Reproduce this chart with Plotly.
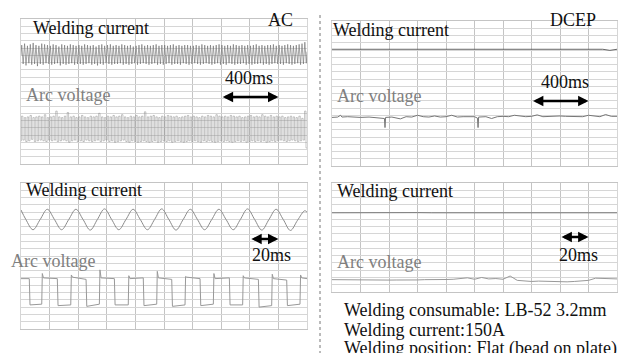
import plotly.graph_objects as go

# ---------------- data (values in grid divisions, time in ms) ----------------
# Top-left: AC, 2 s window, welding current peaks / troughs per 20 ms cycle
TL_I_PEAK = [16.4,16.6,16.3,16.5,16.7,16.4,16.3,16.6,16.5,16.4,
             16.3,16.5,16.4,16.2,16.5,16.4,16.3,16.5,16.4,16.3,
             16.4,16.3,16.5,16.4,16.3,16.4,16.2,16.4,16.5,16.3,
             16.4,16.5,16.3,16.4,16.3,16.5,16.4,16.3,16.4,16.2,
             16.3,16.4,16.5,16.3,16.4,16.3,16.4,16.5,16.3,16.4,
             16.4,16.3,16.4,16.5,16.3,16.4,16.3,16.4,16.4,16.3,
             16.3,16.4,16.3,16.5,16.4,16.3,16.4,16.3,16.4,16.5,
             16.4,16.3,16.4,16.3,16.5,16.4,16.3,16.4,16.3,16.4,
             16.3,16.4,16.5,16.3,16.4,16.3,16.4,16.4,16.5,16.3,
             16.4,16.3,16.4,16.5,16.4,16.3,16.4,16.5,16.6,16.8]
TL_I_TROUGH = [13.8,13.6,13.9,13.7,13.8,13.5,13.8,13.7,13.9,13.8,
               13.7,13.8,13.9,13.6,13.8,13.7,13.8,13.9,13.7,13.8,
               13.8,13.7,13.8,13.9,13.7,13.8,13.6,13.8,13.7,13.9,
               13.8,13.7,13.8,13.8,13.9,13.7,13.8,13.7,13.8,13.9,
               13.7,13.8,13.9,13.8,13.7,13.8,13.9,13.7,13.8,13.7,
               13.8,13.9,13.7,13.8,13.8,13.7,13.9,13.8,13.7,13.8,
               13.9,13.8,13.7,13.8,13.9,13.8,13.7,13.8,13.9,13.7,
               13.8,13.7,13.9,13.8,13.7,13.8,13.8,13.9,13.7,13.8,
               13.7,13.8,13.8,13.9,13.7,13.8,13.7,13.8,13.9,13.8,
               13.8,13.7,13.9,13.8,13.7,13.8,13.9,13.7,13.8,13.9]
# Top-left: AC arc voltage, high / low level per cycle
TL_V_HIGH = [6.6,6.4,6.5,6.7,6.4,6.5,6.6,6.5,6.8,6.4,
             6.5,6.6,7.3,6.5,6.4,6.6,7.1,6.5,6.6,6.4,
             6.5,6.7,6.5,6.4,6.6,6.5,6.6,7.0,6.5,6.4,
             6.6,6.5,6.7,6.5,6.6,6.8,6.5,6.4,6.6,6.5,
             6.7,6.5,6.6,7.2,6.5,6.6,6.7,6.5,6.4,6.6,
             6.5,6.7,6.6,6.5,6.6,6.4,6.5,6.6,6.7,6.5,
             6.6,6.5,6.4,6.6,6.5,6.7,6.6,6.5,6.8,6.6,
             6.5,6.6,6.5,6.7,6.6,6.5,6.6,6.4,6.5,6.6,
             6.7,6.5,6.6,6.5,6.8,6.6,6.5,6.7,6.5,6.6,
             6.5,6.6,6.4,6.5,6.6,6.5,6.4,6.6,6.3,7.3]
TL_V_LOW = [3.3,3.1,3.2,3.4,3.1,3.2,3.3,3.2,3.1,3.3,
            3.2,3.3,3.1,3.2,3.3,3.2,3.0,3.2,3.3,3.1,
            3.2,3.1,3.3,3.2,3.1,3.2,3.3,3.1,3.2,3.3,
            3.1,3.2,3.0,3.1,3.2,3.3,3.1,3.0,3.2,3.1,
            3.0,3.1,3.2,3.1,3.0,3.1,3.2,3.0,3.1,3.2,
            3.1,3.2,3.0,3.1,3.2,3.1,3.0,3.1,3.2,3.1,
            3.2,3.1,3.0,3.2,3.1,3.2,3.1,3.0,3.1,3.2,
            3.1,3.2,3.1,3.0,3.1,3.2,3.1,3.2,3.0,3.1,
            3.2,3.1,3.2,3.1,3.2,3.0,3.1,3.2,3.1,3.2,
            3.3,3.2,3.1,3.2,3.3,3.2,3.1,3.2,3.3,2.2]

# Bottom-left: AC, 200 ms window
BL_I_T = [0, 3.4, 8.4, 13.4, 18.4, 23.4, 28.4, 33.4, 38.4, 43.4, 48.4, 53.4, 58.4,
          63.4, 68.4, 73.4, 78.4, 83.4, 88.4, 93.4, 98.4, 103.4, 108.4, 113.4,
          118.4, 123.4, 128.4, 133.4, 138.4, 143.4, 148.4, 153.4, 158.4, 163.4,
          168.4, 173.4, 178.4, 183.4, 188.4, 193.4, 198.4, 200]
BL_I_V = [16.3, 15.0, 13.6, 15.0, 16.4, 15.0, 13.6, 15.0, 16.4, 15.0, 13.55, 15.0, 16.45,
          15.0, 13.6, 15.0, 16.4, 15.0, 13.6, 15.0, 16.45, 15.0, 13.55, 15.0,
          16.4, 15.0, 13.6, 15.0, 16.4, 15.0, 13.6, 15.0, 16.45, 15.0,
          13.55, 15.0, 16.4, 15.0, 13.5, 14.9, 16.2, 16.0]
BL_V_DOWN = [5.8, 25.4, 45.5, 65.3, 85.5, 105.4, 125.2, 145.7, 166.0, 185.8]
BL_V_UP = [14.5, 34.8, 54.8, 75.0, 94.9, 114.7, 134.5, 155.0, 175.3, 195.1]
BL_V_START = 6.9
BL_V_SPIKE = [7.6, 7.4, 8.1, 7.3, 7.9, 7.2, 7.6, 7.3, 7.5, 7.4]
BL_V_HIGH_A = [7.0, 7.1, 7.0, 6.9, 7.0, 7.1, 6.9, 7.0, 6.9, 7.0]
BL_V_HIGH_B = [6.9, 6.8, 6.9, 7.0, 6.8, 6.9, 7.0, 6.8, 6.7, 6.9]
BL_V_LOW_A = [3.3, 3.2, 3.1, 3.3, 3.2, 3.1, 3.2, 3.3, 3.0, 3.2]
BL_V_LOW_B = [3.4, 3.3, 3.4, 3.3, 3.4, 3.3, 3.4, 3.3, 3.2, 3.4]

# Top-right: DCEP, 2 s window
TR_I = [16.1, 16.1, 16.12, 16.1, 16.08, 16.1, 16.1, 16.12, 16.1, 16.1,
        16.1, 16.08, 16.1, 16.1, 16.12, 16.1, 16.1, 16.1, 16.08, 16.1,
        16.1, 16.12, 16.1, 16.1, 16.1, 16.08, 16.1, 16.1, 16.12, 16.1,
        16.1, 16.1, 16.08, 16.1, 16.1, 16.1, 16.12, 16.1, 16.1, 15.95, 16.1]
TR_V_T = [0, 40, 60, 70, 110, 150, 200, 260, 330, 368, 372, 376, 420, 480, 520,
          560, 600, 640, 680, 720, 760, 800, 840, 880, 920, 960, 1000, 1021, 1025,
          1029, 1080, 1120, 1160, 1200, 1240, 1280, 1320, 1360, 1400, 1440, 1480,
          1520, 1560, 1600, 1640, 1680, 1720, 1760, 1800, 1840, 1880, 1920, 1960, 2000]
TR_V_V = [6.7, 6.75, 7.0, 6.75, 6.8, 6.75, 6.7, 6.75, 6.6, 6.55, 5.3, 6.7, 6.75, 6.5, 6.8,
          6.75, 7.0, 6.8, 6.75, 6.9, 6.75, 6.8, 7.0, 6.75, 6.8, 6.75, 6.8, 6.6, 5.3,
          6.75, 6.8, 6.55, 6.8, 6.85, 6.8, 7.0, 6.85, 6.8, 6.85, 7.05, 6.8,
          6.85, 6.8, 6.9, 6.85, 6.8, 6.85, 6.8, 7.0, 6.85, 6.8, 7.1, 6.85, 6.85]

# Bottom-right: DCEP, 200 ms window
BR_I = [10.9, 10.92, 10.9, 10.88, 10.9, 10.9, 10.92, 10.9, 10.9, 10.88, 10.9,
        10.9, 10.9, 10.92, 10.9, 10.88, 10.9, 10.9, 10.9, 10.9, 10.9]
BR_V = [1.7, 1.68, 1.66, 1.65, 1.66, 1.64, 1.65, 1.66, 1.64, 1.65, 1.63, 1.65, 1.66,
        1.7, 1.68, 1.7, 1.72, 1.75, 1.8, 1.95, 1.75, 2.0, 1.8, 1.85, 1.75, 2.2, 1.6,
        1.5, 1.45, 1.5, 1.45, 1.4, 1.45, 1.4, 1.45, 1.5, 1.6, 1.9, 1.85, 1.75, 1.8]

# ---------------- build traces ----------------
tl_i_t, tl_i_v = [0], [15.0]
for k in range(len(TL_I_PEAK)):
    tl_i_t += [20 * k + 5, 20 * k + 15]
    tl_i_v += [TL_I_PEAK[k], TL_I_TROUGH[k]]
tl_i_t.append(2000); tl_i_v.append(15.5)

tl_v_t, tl_v_v = [0], [3.2]
for k in range(len(TL_V_HIGH)):
    tl_v_t += [20 * k + 3, 20 * k + 13]
    tl_v_v += [TL_V_HIGH[k], TL_V_LOW[k]]
tl_v_t.append(2000); tl_v_v.append(TL_V_LOW[-1])

bl_v_t, bl_v_v = [0, BL_V_DOWN[0]], [BL_V_START, BL_V_START]
for k in range(len(BL_V_UP)):
    bl_v_t += [BL_V_DOWN[k] + 0.5, BL_V_UP[k], BL_V_UP[k] + 0.4, BL_V_UP[k] + 1.2]
    bl_v_v += [BL_V_LOW_A[k], BL_V_LOW_B[k], BL_V_SPIKE[k], BL_V_HIGH_A[k]]
    nxt = BL_V_DOWN[k + 1] if k + 1 < len(BL_V_DOWN) else 200
    bl_v_t.append(nxt); bl_v_v.append(BL_V_HIGH_B[k])

fig = go.Figure()
fig.add_trace(go.Scatter(x=tl_i_t, y=tl_i_v, mode="lines", line=dict(color="#6a6a6a", width=0.6), xaxis="x", yaxis="y"))
fig.add_trace(go.Scatter(x=tl_v_t, y=tl_v_v, mode="lines", line=dict(color="#8a8a8a", width=0.5, shape="hv"), xaxis="x", yaxis="y"))
fig.add_trace(go.Scatter(x=BL_I_T, y=BL_I_V, mode="lines", line=dict(color="#8a8a8a", width=1, shape="spline"), xaxis="x2", yaxis="y2"))
fig.add_trace(go.Scatter(x=bl_v_t, y=bl_v_v, mode="lines", line=dict(color="#999999", width=1), xaxis="x2", yaxis="y2"))
fig.add_trace(go.Scatter(x=[50 * i for i in range(len(TR_I))], y=TR_I, mode="lines", line=dict(color="#666666", width=1), xaxis="x3", yaxis="y3"))
fig.add_trace(go.Scatter(x=TR_V_T, y=TR_V_V, mode="lines", line=dict(color="#777777", width=1), xaxis="x3", yaxis="y3"))
fig.add_trace(go.Scatter(x=[10 * i for i in range(len(BR_I))], y=BR_I, mode="lines", line=dict(color="#777777", width=1), xaxis="x4", yaxis="y4"))
fig.add_trace(go.Scatter(x=[5 * i for i in range(len(BR_V))], y=BR_V, mode="lines", line=dict(color="#999999", width=1), xaxis="x4", yaxis="y4"))

# ---------------- layout ----------------
W, H = 622, 353
def px_x(p): return p / W
def px_y(p): return 1 - p / H

panels = {  # name: (left, right, top, bottom px, xmax, xdtick, ymax)
    "": (21, 307, 19, 164, 2000, 200, 20),
    "2": (21, 307, 183, 329, 200, 20, 20),
    "3": (332, 617, 21, 166, 2000, 200, 20),
    "4": (332, 617, 183, 292, 200, 20, 15),
}
vgrid, hgrid = "#c4c4c4", "#d6d6d6"
lay = {}
for n, (l, r, t, b, xmax, xd, ymax) in panels.items():
    lay["xaxis" + n] = dict(domain=[px_x(l), px_x(r)], range=[0, xmax], dtick=xd, tick0=0,
                            showgrid=True, gridcolor=vgrid, gridwidth=1, zeroline=False,
                            showticklabels=False, ticks="", showline=True, mirror=True,
                            linecolor=vgrid, linewidth=1, anchor="y" + n, fixedrange=True)
    lay["yaxis" + n] = dict(domain=[px_y(b), px_y(t)], range=[0, ymax], dtick=1, tick0=0,
                            showgrid=True, gridcolor=hgrid, gridwidth=1, zeroline=False,
                            showticklabels=False, ticks="", showline=True, mirror=True,
                            linecolor=hgrid, linewidth=1, anchor="x" + n, fixedrange=True)

FONT = "Liberation Serif, Times New Roman, serif"
texts = [
    ("Welding current", 32, 28, "#111111"), ("AC", 267, 19.6, "#111111"),
    ("400ms", 224, 77.6, "#111111"), ("Arc voltage", 25, 94.6, "#808080"),
    ("Welding current", 25, 189.6, "#111111"), ("20ms", 251, 255.3, "#111111"),
    ("Arc voltage", 10, 261.3, "#808080"),
    ("DCEP", 549, 19.6, "#111111"), ("Welding current", 332, 29.6, "#111111"),
    ("400ms", 540, 82, "#111111"), ("Arc voltage", 336, 96.3, "#808080"),
    ("Welding current", 336, 190.6, "#111111"), ("20ms", 558, 255.3, "#111111"),
    ("Arc voltage", 336, 262.3, "#808080"),
    ("Welding consumable: LB-52 3.2mm", 343, 309.6, "#111111"),
    ("Welding current:150A", 343, 330.3, "#111111"),
    ("Welding position: Flat (bead on plate)", 343, 348.6, "#111111"),
]
annotations = []
for s, x, y, c in texts:
    annotations.append(dict(text=s, x=px_x(x), y=px_y(y), xref="paper", yref="paper",
                            xanchor="left", yanchor="middle", showarrow=False, borderpad=0,
                            font=dict(family=FONT, size=18, color=c)))
arrows = [("x", "y", 1400, 1800, 9.24), ("x2", "y2", 160, 180, 12.33),
          ("x3", "y3", 1400, 1800, 8.97), ("x4", "y4", 160, 180, 7.57)]
for xr, yr, a, b, yv in arrows:
    annotations.append(dict(text="", x=b, y=yv, ax=a, ay=yv, xref=xr, yref=yr, axref=xr, ayref=yr,
                            showarrow=True, arrowhead=2, arrowside="end+start", arrowsize=0.8,
                            arrowwidth=2.6, arrowcolor="#000000", standoff=0, startstandoff=0))

fig.update_layout(width=W, height=H, margin=dict(l=0, r=0, t=0, b=0), showlegend=False,
                  paper_bgcolor="white", plot_bgcolor="white", annotations=annotations,
                  shapes=[dict(type="line", xref="paper", yref="paper", x0=px_x(320), x1=px_x(320),
                               y0=px_y(15), y1=0, line=dict(color="#777777", width=1, dash="dot"))],
                  **lay)
fig.write_html("out.html", config={"displayModeBar": False},
               post_script="document.body.style.margin='0';document.body.style.overflow='hidden';")
